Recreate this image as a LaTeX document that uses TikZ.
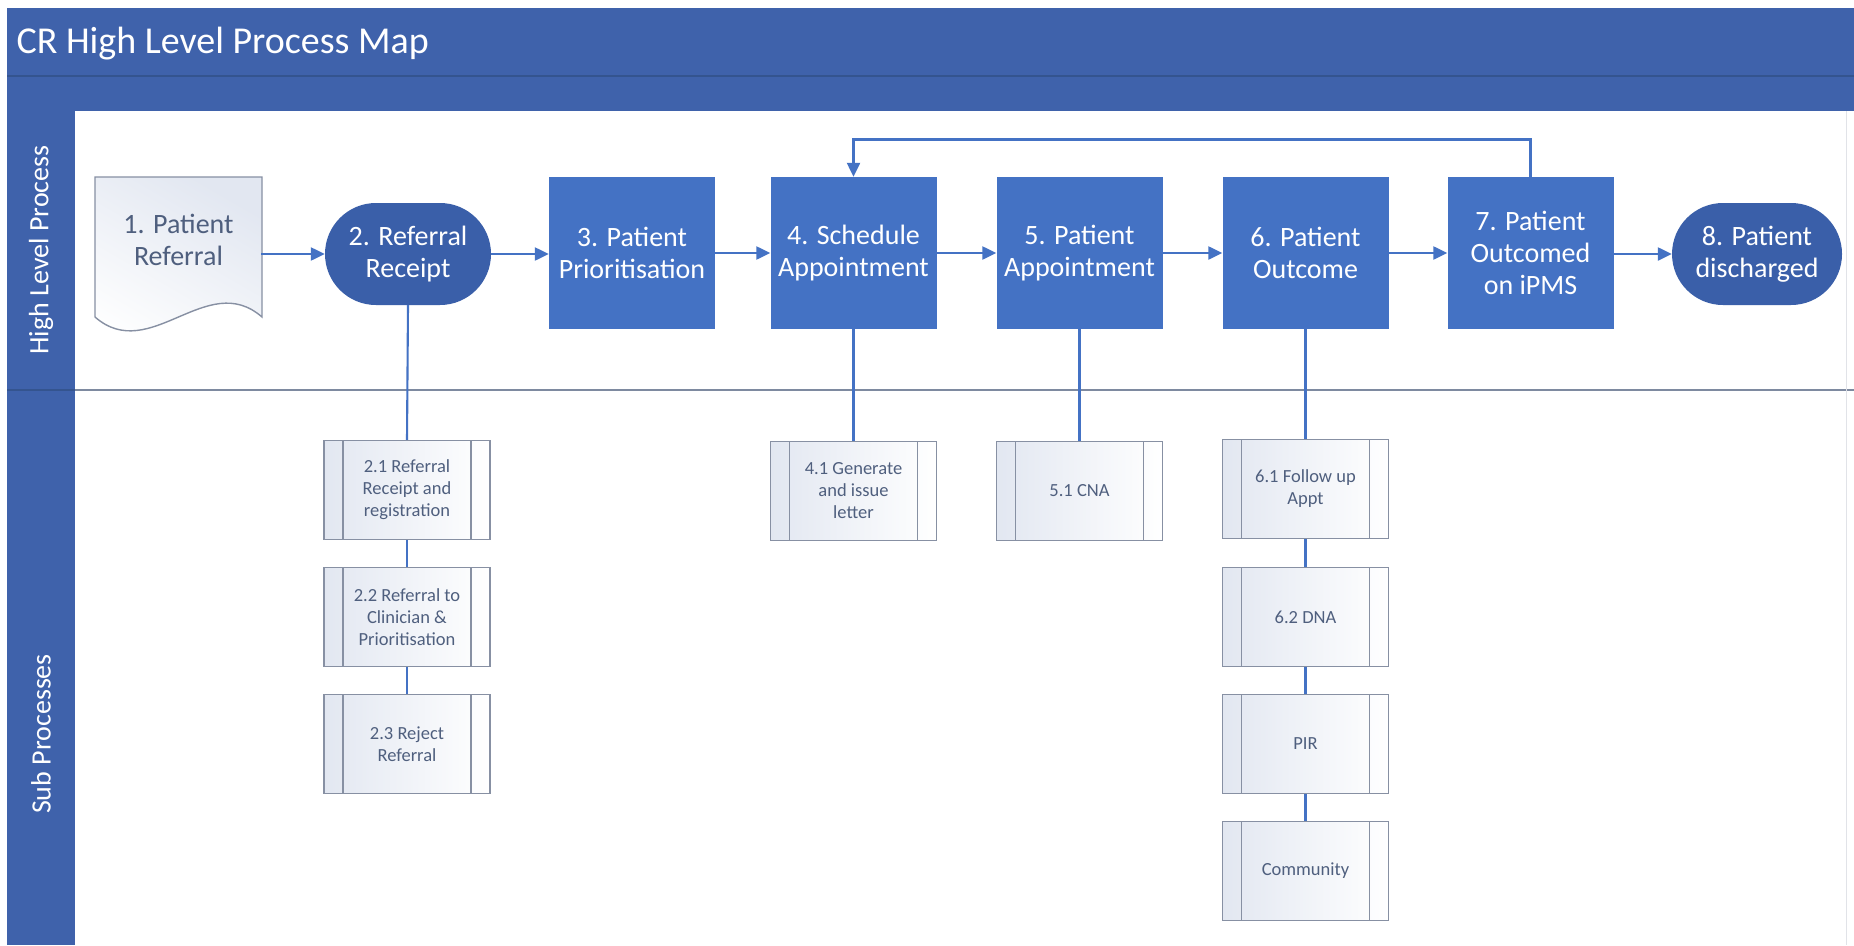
\documentclass[tikz,border=0pt]{standalone}
\usepackage{fontspec}
\setmainfont{Carlito}
\usetikzlibrary{arrows.meta,calc}

\definecolor{bandblue}{HTML}{3F62AB}
\definecolor{banddark}{HTML}{34548F}
\definecolor{boxblue}{HTML}{4472C4}
\definecolor{termblue}{HTML}{3A5FA9}
\definecolor{linkblue}{HTML}{4472C4}
\definecolor{edgegray}{HTML}{8790A3}
\definecolor{divgray}{HTML}{7E8AA0}
\definecolor{subtext}{HTML}{4F5F7E}
\definecolor{subfill}{HTML}{E2E7F1}

\tikzset{
  bigfont/.style={font=\fontsize{28}{32}\selectfont},
  smallfont/.style={font=\fontsize{18.5}{22}\selectfont},
  procbox/.style={rectangle, fill=boxblue, text=white, bigfont, align=center,
    minimum width=166pt, minimum height=152pt, inner sep=0pt},
  termbox/.style={rectangle, rounded corners=51pt, fill=termblue, text=white, bigfont,
    align=center, minimum height=102pt, inner sep=0pt},
  docbox/.style={rectangle, text=subtext, bigfont, align=center,
    minimum width=165pt, minimum height=120pt, inner sep=0pt},
  subbox/.style={rectangle, draw=edgegray, line width=1.4pt, left color=subfill, right color=white,
    text=subtext, smallfont, align=center, minimum width=166pt, minimum height=99pt, inner sep=0pt,
    path picture={
      \draw[edgegray, line width=1.4pt]
        ([xshift=19pt]path picture bounding box.north west) -- ([xshift=19pt]path picture bounding box.south west)
        ([xshift=-19pt]path picture bounding box.north east) -- ([xshift=-19pt]path picture bounding box.south east);
    }},
  flow/.style={draw=linkblue, line width=2.3pt, -{Triangle[length=14pt,width=13pt]}},
  tie/.style={draw=linkblue, line width=2.1pt},
  lanelabel/.style={text=white, font=\fontsize{28}{32}\selectfont, rotate=90},
}

\begin{document}
\begin{tikzpicture}[x=1pt,y=-1pt]
\useasboundingbox (0,0) rectangle (1854,945);
\fill[white] (0,0) rectangle (1854,945);

% title band, sub band and lane header column
\fill[bandblue] (7,8) rectangle (1854,111);
\fill[bandblue] (7,111) rectangle (75,945);
\draw[banddark, line width=1.2pt] (7,76) -- (1854,76);
\draw[banddark, line width=1.2pt] (7,390) -- (75,390);
\node[anchor=west, text=white, font=\fontsize{38}{44}\selectfont] (title) at (13,44) {CR High Level Process Map};

% lane labels
\node[lanelabel] (laneA) at (41,250) {High Level Process};
\node[lanelabel] (laneB) at (41,734) {Sub Processes};

% lane divider and right lane edge
\draw[divgray, line width=2pt] (75,390) -- (1854,390);
\draw[edgegray!25, line width=1pt] (1846,111) -- (1846,945);

% high level process: document shape with wavy bottom
\shade[top color=subfill, bottom color=white, shading angle=-30]
  (95,177) -- (262,177) -- (262,317) .. controls (207,269) and (150,365) .. (95,317) -- cycle;
\draw[edgegray, line width=1.4pt]
  (95,177) -- (262,177) -- (262,317) .. controls (207,269) and (150,365) .. (95,317) -- cycle;
\node[docbox] (n1) at (178.5,240) {1. Patient\\Referral};

\node[termbox, minimum width=166pt] (n2) at (408,254) {2. Referral\\Receipt};
\node[procbox] (n3) at (632,253) {3. Patient\\Prioritisation};
\node[procbox] (n4) at (853.5,253) {4. Schedule\\Appointment};
\node[procbox] (n5) at (1079.5,253) {5. Patient\\Appointment};
\node[procbox] (n6) at (1305.5,253) {6. Patient\\Outcome};
\node[procbox] (n7) at (1530.5,253) {7. Patient\\Outcomed\\on iPMS};
\node[termbox, minimum width=170pt] (n8) at (1757,254) {8. Patient\\discharged};

\draw[flow] (n1.east |- n2.west) -- (n2.west);
\draw[flow] (n2.east) -- (n2.east -| n3.west);
\draw[flow] (n3.east) -- (n4.west);
\draw[flow] (n4.east) -- (n5.west);
\draw[flow] (n5.east) -- (n6.west);
\draw[flow] (n6.east) -- (n7.west);
\draw[flow] (n7.east |- n8.west) -- (n8.west);

\coordinate (loop) at (0,139.5);
\draw[flow] (n7.north) -- (n7.north |- loop) -| (n4.north);

% sub processes
\node[subbox] (s21) at (407,490) {2.1 Referral\\Receipt and\\registration};
\node[subbox] (s22) at (407,617) {2.2 Referral to\\Clinician \&\\Prioritisation};
\node[subbox] (s23) at (407,744) {2.3 Reject\\Referral};
\node[subbox] (s41) at (853.5,491) {4.1 Generate\\and issue\\letter};
\node[subbox] (s51) at (1079.5,491) {5.1 CNA};
\node[subbox] (s61) at (1305.5,489) {6.1 Follow up\\Appt};
\node[subbox] (s62) at (1305.5,617) {6.2 DNA};
\node[subbox] (s63) at (1305.5,744) {PIR};
\node[subbox] (s64) at (1305.5,871) {Community};

\draw[tie] (n2.south) -- (s21.north);
\draw[tie] (s21.south) -- (s22.north);
\draw[tie] (s22.south) -- (s23.north);
\draw[tie] (n4.south) -- (s41.north);
\draw[tie] (n5.south) -- (s51.north);
\draw[tie] (n6.south) -- (s61.north);
\draw[tie] (s61.south) -- (s62.north);
\draw[tie] (s62.south) -- (s63.north);
\draw[tie] (s63.south) -- (s64.north);
\end{tikzpicture}
\end{document}
